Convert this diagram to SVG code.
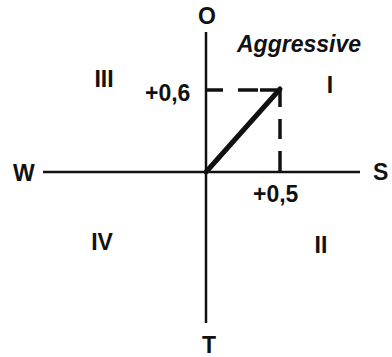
<svg xmlns="http://www.w3.org/2000/svg" width="392" height="357" viewBox="0 0 392 357">
<style>
text{font-family:"Liberation Sans",Arial,sans-serif;font-weight:bold;font-size:23px;fill:#111}
.ax{stroke:#111;stroke-width:2.5;fill:none}
.dash{stroke:#111;stroke-width:3.5;fill:none}
</style>
<rect width="392" height="357" fill="#fff"/>
<g id="connectors">
<line class="ax" x1="206" y1="32" x2="206" y2="323"/>
<line class="ax" x1="43" y1="172" x2="360" y2="172"/>
<line class="dash" x1="206" y1="90" x2="282" y2="90" stroke-dasharray="17 15 20 2"/>
<line class="dash" x1="280" y1="88" x2="280" y2="172" stroke-dasharray="19 12 20 12 30"/>
<line stroke="#111" stroke-width="5" stroke-linecap="round" x1="206" y1="172" x2="280" y2="89"/>
</g>
<g id="axis-O"><text x="207" y="24" text-anchor="middle">O</text></g>
<g id="axis-T"><text x="209" y="353" text-anchor="middle">T</text></g>
<g id="axis-W"><text x="13" y="181">W</text></g>
<g id="axis-S"><text x="373" y="180">S</text></g>
<g id="label-aggressive"><text x="237" y="52" font-style="italic" font-size="24">Aggressive</text></g>
<g id="quad-I"><text x="330" y="93" text-anchor="middle">I</text></g>
<g id="quad-II"><text x="321" y="253" text-anchor="middle">II</text></g>
<g id="quad-III"><text x="104" y="87" text-anchor="middle">III</text></g>
<g id="quad-IV"><text x="102" y="250" text-anchor="middle">IV</text></g>
<g id="val-06"><text x="145" y="101">+0,6</text></g>
<g id="val-05"><text x="253" y="202">+0,5</text></g>
</svg>
